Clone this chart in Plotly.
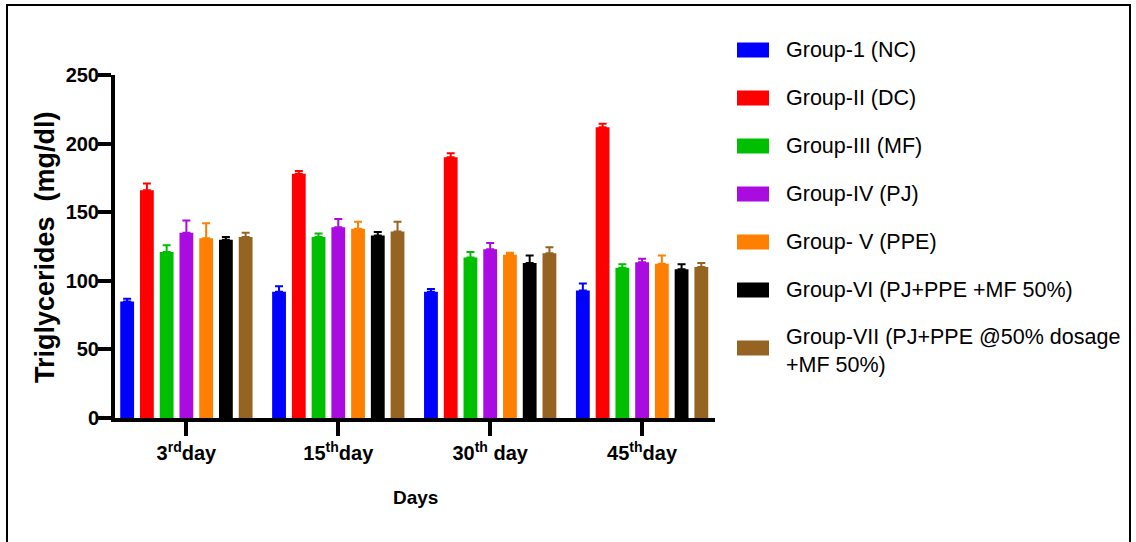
import plotly.graph_objects as go

# Triglyceride levels (mg/dl) per treatment group over the study period
days = ["3<sup>rd</sup>day", "15<sup>th</sup>day", "30<sup>th</sup> day", "45<sup>th</sup>day"]

groups = [
    "Group-1 (NC)",
    "Group-II (DC)",
    "Group-III (MF)",
    "Group-IV (PJ)",
    "Group- V (PPE)",
    "Group-VI (PJ+PPE +MF 50%)",
    "Group-VII (PJ+PPE @50% dosage<br>+MF 50%)",
]

colors = ["#0000FF", "#FF0000", "#00BF00", "#AA0BE0", "#FF8000", "#000000", "#956322"]

g1_mean = [85, 92, 92, 93]
g2_mean = [166, 178, 190, 212]
g3_mean = [121, 132, 117, 109.5]
g4_mean = [135, 139, 123, 113.5]
g5_mean = [131, 138, 119, 112.5]
g6_mean = [130, 133, 113, 108.5]
g7_mean = [132, 136, 120, 110]

g1_sem = [2, 4, 2, 5]
g2_sem = [5, 2, 3, 2.5]
g3_sem = [5, 2.5, 4, 2.5]
g4_sem = [9, 6, 4.5, 2.5]
g5_sem = [11, 5, 1.5, 6]
g6_sem = [2, 2.5, 5.5, 3.5]
g7_sem = [3, 7, 4.5, 3]

means = [g1_mean, g2_mean, g3_mean, g4_mean, g5_mean, g6_mean, g7_mean]
sems = [g1_sem, g2_sem, g3_sem, g4_sem, g5_sem, g6_sem, g7_sem]

W, H = 1136, 542
L, R, T, B = 115, 715, 75, 418  # plot area in pixels


def px_x(px):
    return (px - L) / (R - L)


def px_y(py):
    return (B - py) / (B - T)


fig = go.Figure()
for name, col, m, s in zip(groups, colors, means, sems):
    fig.add_trace(go.Bar(
        x=days, y=m, name=name,
        marker=dict(color=col, line=dict(width=0)),
        error_y=dict(type="data", symmetric=False, array=s,
                     arrayminus=[0] * len(s), color=col,
                     thickness=2, width=4),
        showlegend=False,
    ))

font_main = "Liberation Sans, Arial, sans-serif"

fig.update_layout(
    width=W, height=H,
    margin=dict(l=L, r=W - R, t=T, b=H - B),
    paper_bgcolor="white", plot_bgcolor="white",
    barmode="group", bargap=0.09, bargroupgap=0.3,
    xaxis=dict(
        type="category", range=[-0.47, 3.48],
        showline=True, linewidth=4, linecolor="black",
        ticks="outside", ticklen=14, tickwidth=4, tickcolor="black",
        showgrid=False, zeroline=False,
        tickfont=dict(family=font_main, size=20, color="black", weight="bold"),
    ),
    yaxis=dict(
        range=[0, 250], tickvals=[0, 50, 100, 150, 200, 250],
        showline=True, linewidth=4, linecolor="black",
        ticks="outside", ticklen=13, tickwidth=4, tickcolor="black",
        showgrid=False, zeroline=False, ticklabelstandoff=-5,
        tickfont=dict(family=font_main, size=20, color="black", weight="bold"),
    ),
)

annotations = [
    dict(text="Triglycerides  (mg/dl)", xref="paper", yref="paper",
         x=px_x(45), y=px_y(247), textangle=-90, showarrow=False,
         xanchor="center", yanchor="middle",
         font=dict(family=font_main, size=27, color="black", weight="bold")),
    dict(text="Days", xref="paper", yref="paper",
         x=px_x(415), y=px_y(498), showarrow=False,
         xanchor="center", yanchor="middle",
         font=dict(family=font_main, size=19, color="black", weight="bold")),
]

shapes = [
    # outer frame
    dict(type="rect", xref="paper", yref="paper",
         x0=px_x(7), x1=px_x(1130), y0=px_y(580), y1=px_y(5),
         line=dict(color="black", width=2), fillcolor="rgba(0,0,0,0)", layer="below"),
]

# legend swatches and labels
legend_step = 48
first_center = 50
for i, (name, col) in enumerate(zip(groups, colors)):
    cy = first_center + i * legend_step
    text_cy = cy
    if "<br>" in name:
        cy += 10
        text_cy = cy + 3
    shapes.append(dict(type="rect", xref="paper", yref="paper",
                       x0=px_x(737), x1=px_x(769),
                       y0=px_y(cy + 7.5), y1=px_y(cy - 7.5),
                       line=dict(width=0), fillcolor=col))
    annotations.append(dict(text=name, xref="paper", yref="paper",
                            x=px_x(784), y=px_y(text_cy), showarrow=False,
                            xanchor="left", yanchor="middle", align="left",
                            font=dict(family=font_main, size=21.5, color="black")))

fig.update_layout(annotations=annotations, shapes=shapes)

fig.write_html("out.html")
